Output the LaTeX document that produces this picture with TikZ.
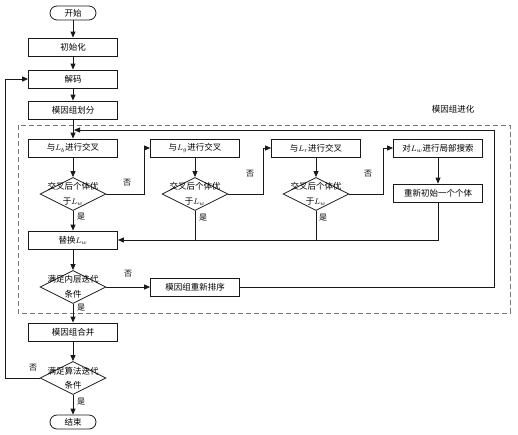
\documentclass[tikz,border=0pt]{standalone}
\usepackage{fontspec}
\setmainfont{Noto Sans CJK SC}
\usetikzlibrary{positioning, arrows.meta, shapes.geometric}
\definecolor{flline}{RGB}{25,25,25}
\definecolor{flgray}{RGB}{120,120,120}

\begin{document}
\begin{tikzpicture}[x=1pt, y=-1pt, font=\fontsize{8.5}{10.5}\selectfont,
    box/.style={draw=flline, line width=0.8pt, minimum width=89pt, minimum height=18pt, inner sep=0pt},
    term/.style={draw=flline, line width=0.8pt, rounded corners=7pt, minimum width=46pt, minimum height=14pt, inner sep=0pt},
    dec/.style={draw=flline, line width=0.8pt, diamond, minimum width=66pt, minimum height=33pt, inner sep=0pt},
    dtext/.style={align=center, font=\fontsize{8.5}{14.5}\selectfont},
    ln/.style={draw=flline, line width=0.8pt},
    arr/.style={ln, -{Triangle[length=6pt,width=5pt]}},
    yn/.style={font=\fontsize{8}{9}\selectfont}]
  \useasboundingbox (0,0) rectangle (518,434);

  % memeplex evolution frame
  \draw[flgray, line width=0.7pt, dash pattern=on 5pt off 3pt] (18,125) rectangle (510,313);
  \node (evolab) at (453,109) {模因组进化};

  % main column
  \node[term] (start) at (73,13) {开始};
  \node[box] (init) at (73,47) {初始化};
  \node[box] (decode) at (73,79) {解码};
  \node[box] (split) at (73,110) {模因组划分};

  % crossover row
  \node[box] (cross1) at (73,148) {与$L_b$进行交叉};
  \node[box] (cross2) at (195,148) {与$L_g$进行交叉};
  \node[box] (cross3) at (316,148) {与$L_r$进行交叉};
  \node[box] (ls) at (438,148) {对$L_w$进行局部搜索};
  \node[box] (reinit) at (438,193) {重新初始一个个体};

  % decisions
  \node[dec] (d1) at (73,194) {};
  \node[dtext] at (d1) {交叉后个体优\\于$L_w$};
  \node[dec] (d2) at (195,194) {};
  \node[dtext] at (d2) {交叉后个体优\\于$L_w$};
  \node[dec] (d3) at (316,194) {};
  \node[dtext] at (d3) {交叉后个体优\\于$L_w$};

  \node[box] (replace) at (73,240) {替换$L_w$};
  \node[dec] (inner) at (73,287) {};
  \node[dtext] at (inner) {满足内层迭代\\条件};
  \node[box] (reorder) at (195,287) {模因组重新排序};

  \node[box] (merge) at (73,332) {模因组合并};
  \node[dec] (outer) at (73,378) {};
  \node[dtext] at (outer) {满足算法迭代\\条件};
  \node[term] (stop) at (73,422) {结束};

  \coordinate (loopc) at (494,130);
  \coordinate (loopin) at (74,130);

  % connectors
  \draw[arr] (start) -- (init);
  \draw[arr] (init) -- (decode);
  \draw[arr] (decode) -- (split);
  \draw[arr] (split) -- (cross1);
  \draw[arr] (cross1) -- (d1);
  \draw[arr] (cross2) -- (d2);
  \draw[arr] (cross3) -- (d3);
  \draw[arr] (ls) -- (reinit);
  \draw[arr] (d1.east) -- ++(38,0) |- (cross2.west);
  \draw[arr] (d2.east) -- ++(35,0) |- (cross3.west);
  \draw[arr] (d3.east) -- ++(34,0) |- (ls.west);
  \draw[arr] (d1) -- (replace);
  \draw[arr] (reinit.south) |- (replace.east);
  \draw[ln] (d2.south) -- (d2.south |- replace.east);
  \draw[ln] (d3.south) -- (d3.south |- replace.east);
  \draw[arr] (replace) -- (inner);
  \draw[arr] (inner.east) -- (reorder.west);
  \draw[arr] (reorder.east) -- (reorder.east -| loopc) -- (loopc) -- (loopin);
  \draw[arr] (inner) -- (merge);
  \draw[arr] (merge) -- (outer);
  \draw[arr] (outer.west) -- ++(-34,0) |- (decode.west);
  \draw[arr] (outer) -- (stop);

  % yes / no labels
  \node[yn] at (127,183) {否};
  \node[yn] at (250,174) {否};
  \node[yn] at (368,174) {否};
  \node[yn] at (81,217) {是};
  \node[yn] at (203,218) {是};
  \node[yn] at (323,218) {是};
  \node[yn] at (128,274) {否};
  \node[yn] at (81,308) {是};
  \node[yn] at (33,368) {否};
  \node[yn] at (81,402) {是};
\end{tikzpicture}
\end{document}
